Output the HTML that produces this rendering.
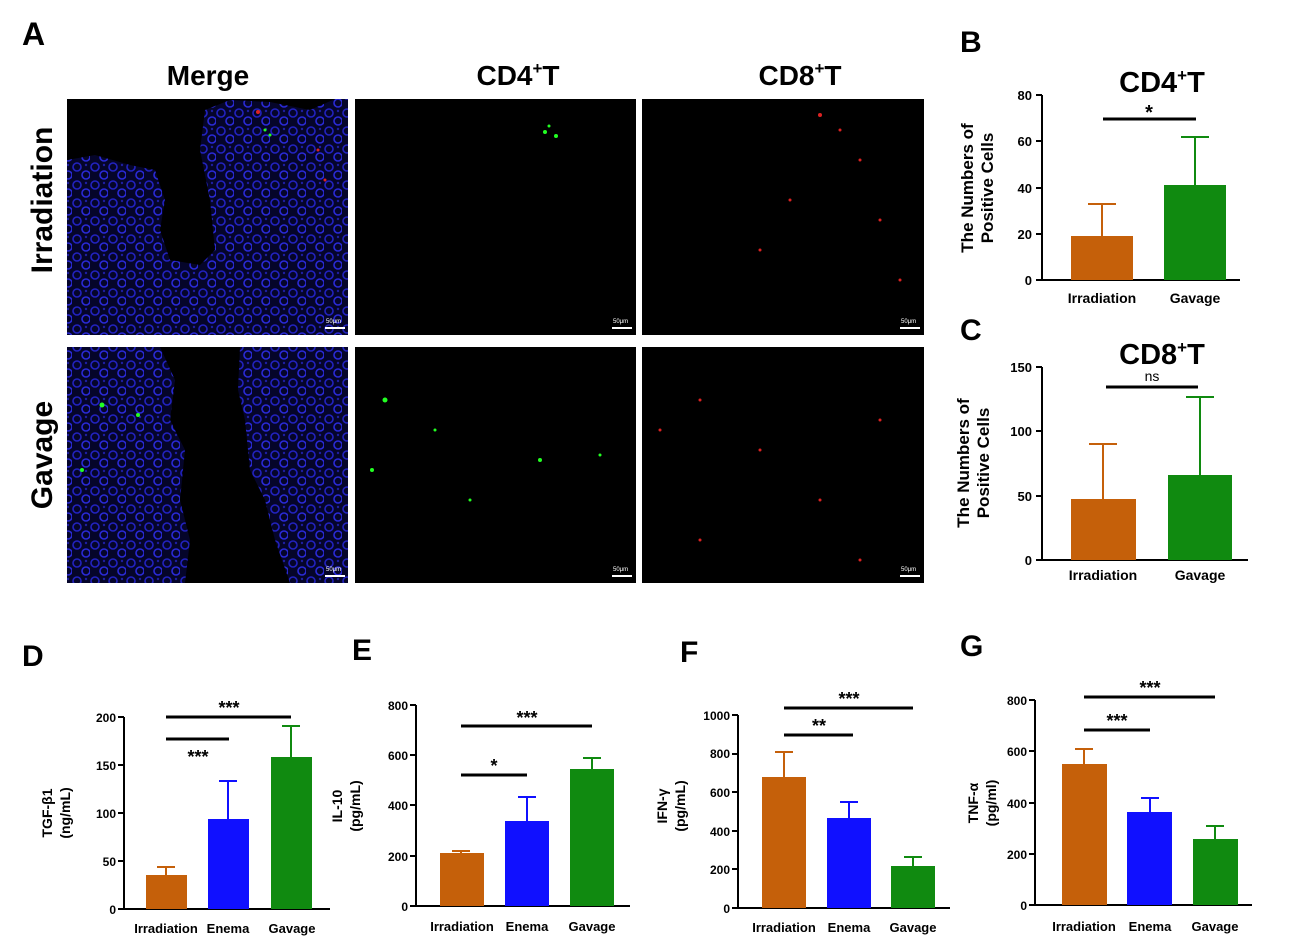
<!DOCTYPE html>
<html><head><meta charset="utf-8"><style>
html,body{margin:0;padding:0;background:#fff;}
svg{display:block;font-family:"Liberation Sans",Arial,sans-serif;}
.t{font-weight:bold;fill:#000;}
.ax{stroke:#000;stroke-width:2;fill:none;}
</style></head><body>
<svg width="1296" height="936" viewBox="0 0 1296 936" xmlns="http://www.w3.org/2000/svg">
<defs>
<pattern id="tis" width="18" height="18" patternUnits="userSpaceOnUse">
<rect width="18" height="18" fill="#05052a"/>
<circle cx="5" cy="5" r="4" fill="none" stroke="#2222c0" stroke-width="1.6"/>
<circle cx="14" cy="13" r="4" fill="none" stroke="#2a2ad8" stroke-width="1.6"/>
<circle cx="14" cy="3" r="1.2" fill="#1e1ea0"/>
</pattern>
</defs>
<rect width="1296" height="936" fill="#fff"/>
<!-- Panel A -->
<text class="t" x="22" y="45" font-size="32">A</text>
<text class="t" x="208" y="85" font-size="28" text-anchor="middle">Merge</text>
<text class="t" x="518" y="85" font-size="28" text-anchor="middle">CD4<tspan font-size="17" dy="-11">+</tspan><tspan dy="11">T</tspan></text>
<text class="t" x="800" y="85" font-size="28" text-anchor="middle">CD8<tspan font-size="17" dy="-11">+</tspan><tspan dy="11">T</tspan></text>
<text class="t" font-size="30" transform="translate(52,200) rotate(-90)" text-anchor="middle">Irradiation</text>
<text class="t" font-size="30" transform="translate(52,455) rotate(-90)" text-anchor="middle">Gavage</text>
<!-- images -->
<rect x="67" y="99" width="281" height="236" fill="#000"/>
<path d="M67 160 L95 155 L130 165 L155 170 L165 200 L160 230 L170 260 L200 265 L215 250 L210 200 L200 150 L205 110 L230 100 L270 102 L310 110 L335 99 H348 V335 H67 Z" fill="url(#tis)"/>
<rect x="355" y="99" width="281" height="236" fill="#000"/>
<rect x="642" y="99" width="282" height="236" fill="#000"/>
<rect x="67" y="347" width="281" height="236" fill="#000"/>
<path d="M67 347 H160 L175 380 L170 420 L185 450 L180 500 L190 540 L185 583 H67 Z" fill="url(#tis)"/>
<path d="M240 347 H348 V583 H290 L275 540 L265 500 L250 470 L245 420 L238 390 Z" fill="url(#tis)"/>
<rect x="355" y="347" width="281" height="236" fill="#000"/>
<rect x="642" y="347" width="282" height="236" fill="#000"/>
<g fill="#2f2">
<circle cx="545" cy="132" r="2"/><circle cx="556" cy="136" r="2"/><circle cx="549" cy="126" r="1.5"/>
<circle cx="385" cy="400" r="2.5"/><circle cx="372" cy="470" r="2"/><circle cx="435" cy="430" r="1.5"/><circle cx="540" cy="460" r="2"/><circle cx="600" cy="455" r="1.5"/><circle cx="470" cy="500" r="1.5"/>
<circle cx="102" cy="405" r="2.5"/><circle cx="138" cy="415" r="2"/><circle cx="82" cy="470" r="2"/><circle cx="265" cy="130" r="1.5"/><circle cx="270" cy="135" r="1.5"/>
</g>
<g fill="#d22">
<circle cx="820" cy="115" r="2"/><circle cx="840" cy="130" r="1.5"/><circle cx="860" cy="160" r="1.5"/><circle cx="790" cy="200" r="1.5"/><circle cx="880" cy="220" r="1.5"/><circle cx="760" cy="250" r="1.5"/><circle cx="900" cy="280" r="1.5"/>
<circle cx="700" cy="400" r="1.5"/><circle cx="760" cy="450" r="1.5"/><circle cx="820" cy="500" r="1.5"/><circle cx="880" cy="420" r="1.5"/><circle cx="700" cy="540" r="1.5"/><circle cx="860" cy="560" r="1.5"/><circle cx="660" cy="430" r="1.5"/>
<circle cx="258" cy="112" r="2"/><circle cx="318" cy="150" r="1.5"/><circle cx="325" cy="180" r="1.5"/>
</g>
<g fill="#fff" font-size="6">
<text x="326" y="323">50μm</text><rect x="325" y="327" width="20" height="2"/>
<text x="613" y="323">50μm</text><rect x="612" y="327" width="20" height="2"/>
<text x="901" y="323">50μm</text><rect x="900" y="327" width="20" height="2"/>
<text x="326" y="571">50μm</text><rect x="325" y="575" width="20" height="2"/>
<text x="613" y="571">50μm</text><rect x="612" y="575" width="20" height="2"/>
<text x="901" y="571">50μm</text><rect x="900" y="575" width="20" height="2"/>
</g>

<!-- Panel B -->
<text class="t" x="960" y="52" font-size="30">B</text>
<text class="t" x="1162" y="92" font-size="29" text-anchor="middle">CD4<tspan font-size="17" dy="-11">+</tspan><tspan dy="11">T</tspan></text>
<text class="t" font-size="17" transform="translate(973,188) rotate(-90)" text-anchor="middle">The Numbers of</text>
<text class="t" font-size="17" transform="translate(993,188) rotate(-90)" text-anchor="middle">Positive Cells</text>
<g font-size="13" class="t" text-anchor="end">
<text x="1032" y="100">80</text><text x="1032" y="146">60</text><text x="1032" y="193">40</text><text x="1032" y="239">20</text><text x="1032" y="285">0</text></g>
<path class="ax" d="M1042 95 V280 H1240 M1036 95 H1042 M1036 141 H1042 M1036 188 H1042 M1036 234 H1042 M1036 280 H1042"/>
<rect x="1071" y="236" width="62" height="44" fill="#c5600a"/>
<path d="M1102 236 V204 M1088 204 H1116" stroke="#c5600a" stroke-width="2"/>
<rect x="1164" y="185" width="62" height="95" fill="#108a10"/>
<path d="M1195 185 V137 M1181 137 H1209" stroke="#108a10" stroke-width="2"/>
<path d="M1103 119 H1196" stroke="#000" stroke-width="3"/>
<text class="t" x="1149" y="119" font-size="20" text-anchor="middle">*</text>
<text class="t" x="1102" y="303" font-size="14" text-anchor="middle">Irradiation</text>
<text class="t" x="1195" y="303" font-size="14" text-anchor="middle">Gavage</text>

<!-- Panel C -->
<text class="t" x="960" y="340" font-size="30">C</text>
<text class="t" x="1162" y="364" font-size="29" text-anchor="middle">CD8<tspan font-size="17" dy="-11">+</tspan><tspan dy="11">T</tspan></text>
<text class="t" font-size="17" transform="translate(969,463) rotate(-90)" text-anchor="middle">The Numbers of</text>
<text class="t" font-size="17" transform="translate(989,463) rotate(-90)" text-anchor="middle">Positive Cells</text>
<g font-size="13" class="t" text-anchor="end">
<text x="1032" y="372">150</text><text x="1032" y="436">100</text><text x="1032" y="501">50</text><text x="1032" y="565">0</text></g>
<path class="ax" d="M1042 367 V560 H1248 M1036 367 H1042 M1036 431 H1042 M1036 496 H1042 M1036 560 H1042"/>
<rect x="1071" y="499" width="65" height="61" fill="#c5600a"/>
<path d="M1103 499 V444 M1089 444 H1117" stroke="#c5600a" stroke-width="2"/>
<rect x="1168" y="475" width="64" height="85" fill="#108a10"/>
<path d="M1200 475 V397 M1186 397 H1214" stroke="#108a10" stroke-width="2"/>
<path d="M1106 387 H1198" stroke="#000" stroke-width="3"/>
<text x="1152" y="381" font-size="14" text-anchor="middle">ns</text>
<text class="t" x="1103" y="580" font-size="14" text-anchor="middle">Irradiation</text>
<text class="t" x="1200" y="580" font-size="14" text-anchor="middle">Gavage</text>

<!-- Panel D -->
<text class="t" x="22" y="666" font-size="30">D</text>
<text class="t" font-size="14" transform="translate(52,813) rotate(-90)" text-anchor="middle">TGF-β1</text>
<text class="t" font-size="14" transform="translate(70,813) rotate(-90)" text-anchor="middle">(ng/mL)</text>
<g font-size="12" class="t" text-anchor="end">
<text x="116" y="722">200</text><text x="116" y="770">150</text><text x="116" y="818">100</text><text x="116" y="866">50</text><text x="116" y="914">0</text></g>
<path class="ax" d="M124 717 V909 H330 M118 717 H124 M118 765 H124 M118 813 H124 M118 861 H124 M118 909 H124"/>
<rect x="146" y="875" width="41" height="34" fill="#c5600a"/><path d="M166 875 V867 M157 867 H175" stroke="#c5600a" stroke-width="2"/>
<rect x="208" y="819" width="41" height="90" fill="#1010ff"/><path d="M228 819 V781 M219 781 H237" stroke="#1010ff" stroke-width="2"/>
<rect x="271" y="757" width="41" height="152" fill="#108a10"/><path d="M291 757 V726 M282 726 H300" stroke="#108a10" stroke-width="2"/>
<path d="M166 739 H229 M166 717 H291" stroke="#000" stroke-width="3"/>
<text class="t" x="198" y="763" font-size="18" text-anchor="middle">***</text>
<text class="t" x="229" y="714" font-size="18" text-anchor="middle">***</text>
<g class="t" font-size="13" text-anchor="middle"><text x="166" y="933">Irradiation</text><text x="228" y="933">Enema</text><text x="292" y="933">Gavage</text></g>

<!-- Panel E -->
<text class="t" x="352" y="660" font-size="30">E</text>
<text class="t" font-size="14" transform="translate(342,806) rotate(-90)" text-anchor="middle">IL-10</text>
<text class="t" font-size="14" transform="translate(360,806) rotate(-90)" text-anchor="middle">(pg/mL)</text>
<g font-size="12" class="t" text-anchor="end">
<text x="408" y="710">800</text><text x="408" y="760">600</text><text x="408" y="810">400</text><text x="408" y="861">200</text><text x="408" y="911">0</text></g>
<path class="ax" d="M416 705 V906 H630 M410 705 H416 M410 755 H416 M410 805 H416 M410 856 H416 M410 906 H416"/>
<rect x="440" y="853" width="44" height="53" fill="#c5600a"/><path d="M461 853 V851 M452 851 H470" stroke="#c5600a" stroke-width="2"/>
<rect x="505" y="821" width="44" height="85" fill="#1010ff"/><path d="M527 821 V797 M518 797 H536" stroke="#1010ff" stroke-width="2"/>
<rect x="570" y="769" width="44" height="137" fill="#108a10"/><path d="M592 769 V758 M583 758 H601" stroke="#108a10" stroke-width="2"/>
<path d="M461 775 H527 M461 726 H592" stroke="#000" stroke-width="3"/>
<text class="t" x="494" y="772" font-size="18" text-anchor="middle">*</text>
<text class="t" x="527" y="724" font-size="18" text-anchor="middle">***</text>
<g class="t" font-size="13" text-anchor="middle"><text x="462" y="931">Irradiation</text><text x="527" y="931">Enema</text><text x="592" y="931">Gavage</text></g>

<!-- Panel F -->
<text class="t" x="680" y="662" font-size="30">F</text>
<text class="t" font-size="14" transform="translate(667,806) rotate(-90)" text-anchor="middle">IFN-γ</text>
<text class="t" font-size="14" transform="translate(685,806) rotate(-90)" text-anchor="middle">(pg/mL)</text>
<g font-size="12" class="t" text-anchor="end">
<text x="730" y="720">1000</text><text x="730" y="758">800</text><text x="730" y="797">600</text><text x="730" y="836">400</text><text x="730" y="874">200</text><text x="730" y="913">0</text></g>
<path class="ax" d="M738 715 V908 H950 M732 715 H738 M732 754 H738 M732 792 H738 M732 831 H738 M732 869 H738 M732 908 H738"/>
<rect x="762" y="777" width="44" height="131" fill="#c5600a"/><path d="M784 777 V752 M775 752 H793" stroke="#c5600a" stroke-width="2"/>
<rect x="827" y="818" width="44" height="90" fill="#1010ff"/><path d="M849 818 V802 M840 802 H858" stroke="#1010ff" stroke-width="2"/>
<rect x="891" y="866" width="44" height="42" fill="#108a10"/><path d="M913 866 V857 M904 857 H922" stroke="#108a10" stroke-width="2"/>
<path d="M784 735 H853 M784 708 H913" stroke="#000" stroke-width="3"/>
<text class="t" x="819" y="732" font-size="18" text-anchor="middle">**</text>
<text class="t" x="849" y="705" font-size="18" text-anchor="middle">***</text>
<g class="t" font-size="13" text-anchor="middle"><text x="784" y="932">Irradiation</text><text x="849" y="932">Enema</text><text x="913" y="932">Gavage</text></g>

<!-- Panel G -->
<text class="t" x="960" y="656" font-size="30">G</text>
<text class="t" font-size="14" transform="translate(978,803) rotate(-90)" text-anchor="middle">TNF-α</text>
<text class="t" font-size="14" transform="translate(996,803) rotate(-90)" text-anchor="middle">(pg/ml)</text>
<g font-size="12" class="t" text-anchor="end">
<text x="1027" y="705">800</text><text x="1027" y="756">600</text><text x="1027" y="808">400</text><text x="1027" y="859">200</text><text x="1027" y="910">0</text></g>
<path class="ax" d="M1035 700 V905 H1252 M1029 700 H1035 M1029 751 H1035 M1029 803 H1035 M1029 854 H1035 M1029 905 H1035"/>
<rect x="1062" y="764" width="45" height="141" fill="#c5600a"/><path d="M1084 764 V749 M1075 749 H1093" stroke="#c5600a" stroke-width="2"/>
<rect x="1127" y="812" width="45" height="93" fill="#1010ff"/><path d="M1150 812 V798 M1141 798 H1159" stroke="#1010ff" stroke-width="2"/>
<rect x="1193" y="839" width="45" height="66" fill="#108a10"/><path d="M1215 839 V826 M1206 826 H1224" stroke="#108a10" stroke-width="2"/>
<path d="M1084 730 H1150 M1084 697 H1215" stroke="#000" stroke-width="3"/>
<text class="t" x="1117" y="727" font-size="18" text-anchor="middle">***</text>
<text class="t" x="1150" y="694" font-size="18" text-anchor="middle">***</text>
<g class="t" font-size="13" text-anchor="middle"><text x="1084" y="931">Irradiation</text><text x="1150" y="931">Enema</text><text x="1215" y="931">Gavage</text></g>
</svg>
</body></html>
